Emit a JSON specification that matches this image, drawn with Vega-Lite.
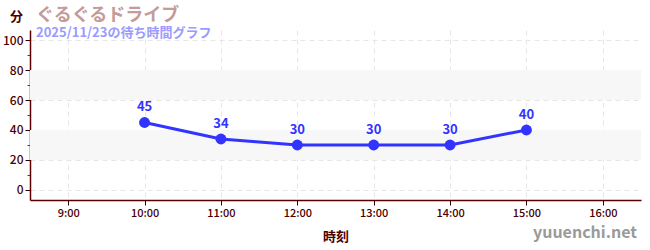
{
  "$schema": "https://vega.github.io/schema/vega-lite/v6.json",
  "autosize": {"type": "none"},
  "width": 611,
  "height": 170,
  "padding": {"left": 30, "top": 30, "right": 9, "bottom": 50},
  "background": "white",
  "config": {
    "font": "Noto Sans CJK JP",
    "view": {"stroke": null},
    "axis": {"labelOverlap": false}
  },
  "title": {
    "text": "ぐるぐるドライブ",
    "subtitle": "2025/11/23の待ち時間グラフ",
    "anchor": "start",
    "frame": "group",
    "dx": 6,
    "dy": 20,
    "offset": -10,
    "font": "Noto Sans CJK JP",
    "fontSize": 18,
    "fontWeight": "bold",
    "color": "#c49a9a",
    "subtitleFont": "Noto Sans CJK JP",
    "subtitleFontSize": 13,
    "subtitleFontWeight": "bold",
    "subtitleColor": "#9b9bff",
    "subtitlePadding": 2
  },
  "datasets": {
    "waits": [
      {"hour": 10, "wait": 45},
      {"hour": 11, "wait": 34},
      {"hour": 12, "wait": 30},
      {"hour": 13, "wait": 30},
      {"hour": 14, "wait": 30},
      {"hour": 15, "wait": 40}
    ],
    "bands": [
      {"hour": 8.5, "hour2": 16.5, "wait": 20, "wait2": 40},
      {"hour": 8.5, "hour2": 16.5, "wait": 60, "wait2": 80}
    ],
    "mark": [
      {"label": "yuuenchi.net"}
    ]
  },
  "encoding": {
    "x": {"field": "hour", "type": "quantitative",
      "scale": {"domain": [8.5, 16.5], "nice": false, "zero": false},
      "axis": {
        "values": [9, 10, 11, 12, 13, 14, 15, 16],
        "labelExpr": "datum.value + ':00'",
        "labelOverlap": false,
        "title": "時刻",
        "titleFontSize": 13,
        "titleFontWeight": "bold",
        "titleColor": "#4a0000",
        "titlePadding": 12,
        "labelColor": "#4a0000",
        "labelFontSize": 11,
        "labelFontWeight": 500,
        "labelPadding": 2,
        "domainColor": "#5a0000",
        "domainWidth": 1.5,
        "tickColor": "#2a0000",
        "tickSize": 5,
        "grid": true,
        "gridColor": "#e6e6e6",
        "gridDash": [5, 4]
      }
    },
    "y": {"field": "wait", "type": "quantitative",
      "scale": {"domain": [-6.67, 106.67], "nice": false, "zero": false},
      "axis": {
        "values": [0, 10, 20, 30, 40, 50, 60, 70, 80, 90, 100],
        "labelExpr": "datum.value % 20 === 0 ? datum.label : ''",
        "labelOverlap": false,
        "title": "分",
        "titleAngle": 0,
        "titleX": -14,
        "titleY": -14,
        "titleAlign": "center",
        "titleBaseline": "middle",
        "titleFontSize": 13,
        "titleFontWeight": "bold",
        "titleColor": "#4a0000",
        "labelColor": "#4a0000",
        "labelFontSize": 12,
        "labelFontWeight": 500,
        "labelPadding": 2,
        "domainColor": "#5a0000",
        "domainWidth": 1.5,
        "tickColor": {"condition": {"test": "datum.value % 20 === 0", "value": "#2a0000"}, "value": "#dd0000"},
        "tickSize": {"condition": {"test": "datum.value % 20 === 0", "value": 5}, "value": 3},
        "grid": true,
        "gridColor": "#e6e6e6",
        "gridDash": [5, 4],
        "gridOpacity": {"condition": {"test": "datum.value % 20 === 0", "value": 1}, "value": 0}
      }
    }
  },
  "layer": [
    {
      "data": {"name": "bands"},
      "mark": {"type": "rect", "color": "#f7f7f7"},
      "encoding": {
        "x2": {"field": "hour2"},
        "y2": {"field": "wait2"}
      }
    },
    {
      "data": {"name": "waits"},
      "mark": {"type": "line", "color": "#3333ff", "strokeWidth": 3}
    },
    {
      "data": {"name": "waits"},
      "mark": {"type": "point", "filled": true, "color": "#3333ff", "size": 120, "opacity": 1}
    },
    {
      "data": {"name": "waits"},
      "mark": {"type": "text", "color": "#3333ff", "fontSize": 13, "fontWeight": "bold", "dy": -15, "font": "Noto Sans CJK JP"},
      "encoding": {
        "text": {"field": "wait"}
      }
    },
    {
      "data": {"name": "mark"},
      "mark": {"type": "text", "color": "#9a9a9a", "fontSize": 16, "fontWeight": "bold", "align": "right", "baseline": "middle", "font": "Noto Sans CJK JP", "dx": -4, "dy": 33},
      "encoding": {
        "x": {"value": "width"},
        "y": {"value": "height"},
        "text": {"field": "label"}
      }
    }
  ]
}
